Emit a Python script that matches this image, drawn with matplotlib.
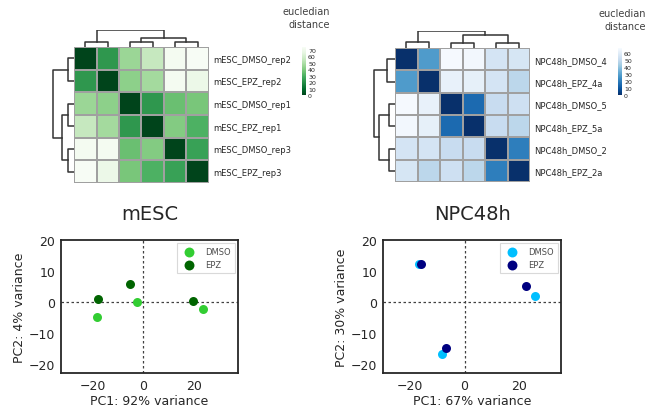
import numpy as np
import matplotlib
matplotlib.use("Agg")
import matplotlib.pyplot as plt

# distancias euclidianas (matrices simetricas)
mesc_labels = ["mESC_DMSO_rep2", "mESC_EPZ_rep2", "mESC_DMSO_rep1",
               "mESC_EPZ_rep1", "mESC_DMSO_rep3", "mESC_EPZ_rep3"]
mesc_dist = [
    [0, 22, 45, 55, 72, 74],
    [22, 0, 42, 47, 72, 68],
    [45, 42, 0, 22, 35, 38],
    [55, 47, 22, 0, 40, 30],
    [72, 72, 35, 40, 0, 25],
    [74, 68, 38, 30, 25, 0],
]
# uniones del dendrograma: (a, b, altura relativa)
mesc_link = [(0, 1, 0.30), (2, 3, 0.30), (4, 5, 0.30), (7, 8, 0.55), (6, 9, 1.0)]

npc_labels = ["NPC48h_DMSO_4", "NPC48h_EPZ_4a", "NPC48h_DMSO_5",
              "NPC48h_EPZ_5a", "NPC48h_DMSO_2", "NPC48h_EPZ_2a"]
npc_dist = [
    [0, 28, 66, 65, 55, 56],
    [28, 0, 62, 61, 55, 48],
    [66, 62, 0, 15, 51, 53],
    [65, 61, 15, 0, 51, 48],
    [55, 55, 51, 51, 0, 20],
    [56, 48, 53, 48, 20, 0],
]
npc_link = [(0, 1, 0.38), (2, 3, 0.28), (4, 5, 0.28), (7, 8, 0.77), (6, 9, 1.0)]

# PCA
mesc_dmso_x = [-18.1, -2.4, 23.8]
mesc_dmso_y = [-5.0, 0.0, -2.2]
mesc_epz_x = [-17.7, -5.3, 19.9]
mesc_epz_y = [0.9, 5.9, 0.3]

npc_dmso_x = [-16.9, -8.3, 26.1]
npc_dmso_y = [12.2, -17.0, 1.9]
npc_epz_x = [-16.0, -6.7, 22.7]
npc_epz_y = [12.2, -14.8, 5.0]

W, H = 647, 410
fig = plt.figure(figsize=(W / 100, H / 100), dpi=100)
txt = "0.15"


def box(x0, y0, x1, y1):
    return [x0 / W, 1 - y1 / H, (x1 - x0) / W, (y1 - y0) / H]


def dendro_lines(link):
    pos = {i: i + 0.5 for i in range(6)}
    hgt = {i: 0.0 for i in range(6)}
    segs = []
    for k, (a, b, h) in enumerate(link):
        segs.append(([pos[a], pos[a], pos[b], pos[b]], [hgt[a], h, h, hgt[b]]))
        pos[6 + k] = (pos[a] + pos[b]) / 2
        hgt[6 + k] = h
    return segs


def clustermap(x0, x1, y0, y1, data, labels, link, cmap, vmax, cticks, cb, title_x, title_y):
    axh = fig.add_axes(box(x0, y0, x1, y1))
    axh.pcolormesh(np.array(data), cmap=cmap, vmin=0, vmax=vmax,
                   edgecolors="#a0a0a0", linewidth=1.1)
    axh.set_xlim(0, 6)
    axh.set_ylim(6, 0)
    axh.set_xticks([])
    axh.yaxis.tick_right()
    axh.set_yticks(np.arange(6) + 0.5)
    axh.set_yticklabels(labels, fontsize=6, color=txt)
    axh.tick_params(axis="y", length=0, pad=3)
    for s in axh.spines.values():
        s.set_visible(False)

    # dendrograma superior
    axt = fig.add_axes(box(x0, y0 - 17, x1, y0))
    for xs, ys in dendro_lines(link):
        axt.plot(xs, ys, color="0.2", lw=1.1)
    axt.set_xlim(0, 6)
    axt.set_ylim(0, 1.03)
    axt.axis("off")

    # dendrograma lateral
    axl = fig.add_axes(box(x0 - 22, y0, x0, y1))
    for xs, ys in dendro_lines(link):
        axl.plot(ys, xs, color="0.2", lw=1.1)
    axl.set_ylim(6, 0)
    axl.set_xlim(1.03, 0)
    axl.axis("off")

    # barra de color
    axc = fig.add_axes(box(cb[0], cb[1], cb[2], cb[3]))
    sm = matplotlib.cm.ScalarMappable(norm=matplotlib.colors.Normalize(0, vmax), cmap=cmap)
    c = fig.colorbar(sm, cax=axc, ticks=cticks)
    c.outline.set_visible(False)
    axc.tick_params(labelsize=4.5, length=0, pad=1.5, colors=txt)
    fig.text(title_x / W, 1 - title_y / H, "eucledian\ndistance", ha="right", va="top",
             fontsize=7, color="0.25", linespacing=1.35)


clustermap(74, 209, 48, 184, mesc_dist, mesc_labels, mesc_link, "Greens_r", 74,
           range(0, 71, 10), (302, 48, 306, 96), 330, 7)
clustermap(395, 530, 49, 183, npc_dist, npc_labels, npc_link, "Blues_r", 67,
           range(0, 61, 10), (618, 49, 622, 96), 646, 9)


def pca(x0, x1, xlim, dx, dy, ex, ey, c1, c2, title, xlabel, ylabel):
    ax = fig.add_axes(box(x0, 241, x1, 374))
    ax.axvline(0, color="0.25", ls=(0, (2, 2)), lw=0.9, zorder=1)
    ax.axhline(0, color="0.25", ls=(0, (2, 2)), lw=0.9, zorder=1)
    ax.scatter(dx, dy, s=42, color=c1, label="DMSO", zorder=3, linewidths=0)
    ax.scatter(ex, ey, s=42, color=c2, label="EPZ", zorder=3, linewidths=0)
    ax.set_xlim(*xlim)
    ax.set_ylim(-23, 20)
    ax.set_xticks([-20, 0, 20])
    ax.set_yticks([-20, -10, 0, 10, 20])
    ax.tick_params(length=0, labelsize=9, colors=txt, pad=4)
    ax.set_xlabel(xlabel, fontsize=9, color=txt, labelpad=2)
    ax.set_ylabel(ylabel, fontsize=9, color=txt, labelpad=2)
    ax.set_title(title, fontsize=14, color=txt, pad=15)
    for s in ax.spines.values():
        s.set_linewidth(1.3)
        s.set_color("0.15")
    leg = ax.legend(loc="upper right", fontsize=6, markerscale=1.1, handletextpad=0.9,
                    borderpad=0.45, labelspacing=0.45, fancybox=False, framealpha=1,
                    borderaxespad=0.4)
    leg.get_frame().set_edgecolor("0.85")
    leg.get_frame().set_linewidth(0.8)
    for t in leg.get_texts():
        t.set_color("0.3")


pca(61, 238, (-32.5, 37.5), mesc_dmso_x, mesc_dmso_y, mesc_epz_x, mesc_epz_y,
    "#32CD32", "#006400", "mESC", "PC1: 92% variance", "PC2: 4% variance")
pca(383, 561, (-30, 35.5), npc_dmso_x, npc_dmso_y, npc_epz_x, npc_epz_y,
    "#00BFFF", "#000080", "NPC48h", "PC1: 67% variance", "PC2: 30% variance")

fig.savefig("out.png", dpi=100)
